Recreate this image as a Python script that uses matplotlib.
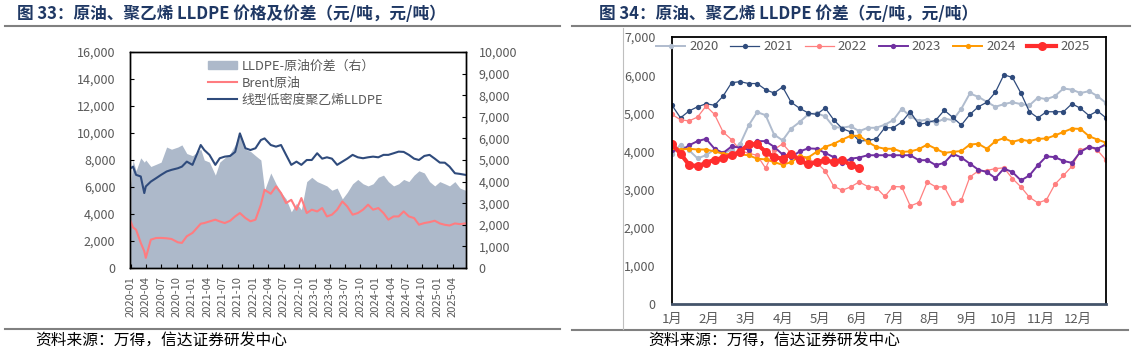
import matplotlib
matplotlib.use("Agg")
import matplotlib.pyplot as plt
from matplotlib.lines import Line2D
from matplotlib.patches import Patch
import numpy as np
import pandas as pd

plt.rcParams['font.family'] = ['Noto Sans CJK SC', 'DejaVu Sans']

# ---------------- Left chart data (元/吨) ----------------
left_dates = ["2020-01-02","2020-01-16","2020-02-03","2020-03-02","2020-03-23","2020-04-01","2020-05-01",
              "2020-06-01","2020-07-01","2020-08-03","2020-09-01","2020-10-09","2020-11-02","2020-12-01",
              "2021-01-04","2021-02-22","2021-03-15","2021-04-15","2021-05-20","2021-06-15","2021-07-15",
              "2021-08-16","2021-09-15","2021-10-13","2021-11-15","2021-12-15","2022-01-14","2022-02-15",
              "2022-03-09","2022-04-15","2022-05-16","2022-06-15","2022-07-15","2022-08-15","2022-09-15",
              "2022-10-14","2022-11-15","2022-12-15","2023-01-16","2023-02-15","2023-03-15","2023-04-14",
              "2023-05-15","2023-06-15","2023-07-14","2023-08-15","2023-09-15","2023-10-16","2023-11-15",
              "2023-12-15","2024-01-15","2024-02-15","2024-03-15","2024-04-15","2024-05-15","2024-06-14",
              "2024-07-15","2024-08-15","2024-09-13","2024-10-15","2024-11-15","2024-12-16","2025-01-15",
              "2025-02-14","2025-03-14","2025-04-15","2025-05-15","2025-06-16"]
lldpe = [7390,7510,6900,6780,5550,6040,6400,6650,6900,7150,7270,7390,7510,7880,7640,9110,8740,8380,7640,
         8130,8250,8300,8600,9970,8870,8740,8870,9480,9600,9110,8990,9110,8380,7640,7880,7640,8000,8000,
         8500,8100,8200,8100,7640,7880,8100,8380,8200,8130,8200,8250,8200,8380,8380,8500,8620,8600,8380,
         8100,8000,8300,8380,8100,7810,7800,7510,7020,6970,6900]
brent = [3450,3000,2840,1860,1240,750,2100,2220,2230,2200,2150,1900,1860,2350,2600,3280,3330,3450,3580,
         3450,3330,3500,3824,4070,3700,3460,3580,4690,5790,5500,6040,5550,4810,5050,4320,5180,4070,4320,
         4190,4440,3820,3950,4320,4930,4560,3950,4070,4320,4690,4320,4440,4070,3580,3820,3820,4190,3820,
         3700,3210,3330,3400,3500,3300,3200,3150,3300,3250,3300]
spread = [3800,5000,4500,5100,4900,5000,4700,4800,4900,5600,5500,5600,5700,5300,5200,5500,5000,4900,4300,
          4900,5100,5300,5700,6300,5500,5400,5200,5000,3600,4400,3900,3500,3200,2600,3000,2700,4000,4200,
          4000,3900,3800,3600,3700,3200,3500,3900,4100,3900,3800,3900,4200,4300,4000,3800,3900,4100,4000,
          4300,4500,4400,4000,3800,4000,3900,3800,4000,3700,3600]

# ---------------- Right chart data (weekly, 元/吨) ----------------
y2020 = [3920,4180,4030,3820,3900,4055,3940,4050,4190,4680,5030,4950,4440,4290,4600,4770,4970,5000,4920,4640,
         4620,4660,4530,4620,4620,4700,4820,5120,4920,4800,4830,4750,4860,4820,5120,5520,5430,5300,5170,5240,
         5290,5240,5210,5410,5370,5450,5650,5620,5530,5580,5450,5270]
y2021 = [5210,4880,5060,5170,5250,5210,5450,5800,5830,5780,5780,5620,5530,5690,5290,5130,5010,4970,5140,4830,
         4600,4510,4270,4290,4330,4620,4620,4770,5040,4710,4750,4820,5080,4890,4690,4970,5170,5290,5550,6010,
         5940,5530,5040,4880,5040,5040,5040,5250,5130,4940,5060,4880]
y2022 = [4970,4830,4800,4900,5190,4970,4510,4310,4030,3950,3900,3560,4050,4200,3950,3850,3800,3700,3490,3090,
         2980,3070,3200,3080,3050,2820,3080,3070,2570,2660,3200,3070,3070,2650,2720,3330,3490,3500,3550,3570,
         3290,3070,2800,2650,2730,3140,3370,3610,4030,4120,4030,3770]
y2023 = [4050,4010,4160,4270,4330,4070,3960,4130,4100,4050,4270,4270,4120,3920,3850,4000,4080,4070,3960,3850,
         3700,3810,3840,3900,3900,3900,3900,3900,3900,3770,3770,3640,3700,3940,3840,3680,3520,3460,3300,3550,
         3460,3240,3370,3640,3870,3850,3750,3700,3990,4120,4070,4190]
y2024 = [4120,4050,4070,4050,4050,4000,3940,3920,3920,3900,3810,3790,3720,3650,3720,3870,3840,3990,4120,4200,
         4310,4410,4410,4250,4120,4070,4070,3990,4000,4060,4180,4070,3960,3990,4010,4180,4200,4070,4270,4350,
         4250,4310,4270,4330,4340,4420,4510,4600,4590,4400,4310,4230]
y2025 = [4190,3940,3650,3610,3700,3780,3830,3900,3990,4190,4190,3990,3850,3810,3940,3770,3660,3720,3770,3720,
         3780,3640,3570]
years = ["2020", "2021", "2022", "2023", "2024", "2025"]
month_labels = ["1月","2月","3月","4月","5月","6月","7月","8月","9月","10月","11月","12月"]

W, H = 1133, 354
fig = plt.figure(figsize=(W/100, H/100), dpi=100)

def fx(px): return px / W
def fy(py): return 1 - py / H

TITLE_C = "#1F3864"
GREY_T = "#595959"
fmt = matplotlib.ticker.FuncFormatter(lambda v, p: f"{int(v):,}")

# titles & rules
fig.text(fx(17), fy(14), "图 33：原油、聚乙烯 LLDPE 价格及价差（元/吨，元/吨）", fontsize=12, fontweight='bold',
         color=TITLE_C, va='center', ha='left')
fig.text(fx(599), fy(14), "图 34：原油、聚乙烯 LLDPE 价差（元/吨，元/吨）", fontsize=12, fontweight='bold',
         color=TITLE_C, va='center', ha='left')
fig.add_artist(Line2D([fx(5), fx(560)], [fy(26), fy(26)], color="#808080", lw=1.5))
fig.add_artist(Line2D([fx(572), fx(1130)], [fy(26), fy(26)], color="#808080", lw=1.5))
fig.add_artist(Line2D([fx(5), fx(560)], [fy(329), fy(329)], color="#808080", lw=1.5))
fig.add_artist(Line2D([fx(572), fx(1128)], [fy(330), fy(330)], color="#808080", lw=1.5))
fig.add_artist(Line2D([fx(623), fx(623)], [fy(28), fy(329)], color="#BFBFBF", lw=0.8))
fig.text(fx(35), fy(340), "资料来源：万得，信达证券研发中心", fontsize=11.3, color="black", va='center', ha='left',
         style='italic')
fig.text(fx(648), fy(340), "资料来源：万得，信达证券研发中心", fontsize=11.3, color="black", va='center', ha='left',
         style='italic')

# ---------------- Left chart ----------------
ax = fig.add_axes([fx(130), fy(268), fx(466) - fx(130), fy(52) - fy(268)])
ax2 = ax.twinx()
d = pd.to_datetime(left_dates)
ax2.fill_between(d, 0, spread, color="#ADB9CA", lw=0, zorder=1)
ax2.set_ylim(0, 10000)
ax2.set_yticks(np.arange(0, 10001, 1000))
ax2.yaxis.set_major_formatter(fmt)
ax.set_zorder(ax2.get_zorder() + 1)
ax.patch.set_visible(False)
ax.plot(d, brent, color="#FF7C80", lw=1.5)
ax.plot(d, lldpe, color="#2F4B7C", lw=1.5)
ax.set_ylim(0, 16000)
ax.set_yticks(np.arange(0, 16001, 2000))
ax.yaxis.set_major_formatter(fmt)
ax.set_xlim(pd.Timestamp("2019-12-29"), pd.Timestamp("2025-06-20"))
ticks = pd.date_range("2020-01-01", "2025-04-01", freq="3MS")
ax.set_xticks(ticks)
ax.set_xticklabels([t.strftime("%Y-%m") for t in ticks], rotation=90, fontsize=8, color=GREY_T)
for a in (ax, ax2):
    a.tick_params(direction='in', length=3, width=0.8, colors="black", labelcolor=GREY_T, labelsize=9)
    for s in a.spines.values():
        s.set_color("black"); s.set_linewidth(1.0)
ax.tick_params(axis='y', pad=10.5)
ax2.tick_params(axis='y', pad=9)
ax.tick_params(axis='x', pad=6, labelsize=8)
handles = [Patch(color="#ADB9CA"), Line2D([], [], color="#FF7C80", lw=1.5), Line2D([], [], color="#2F4B7C", lw=1.5)]
labels = ["LLDPE-原油价差（右）", "Brent原油", "线型低密度聚乙烯LLDPE"]
fig.legend(handles, labels, loc='upper left', bbox_to_anchor=(fx(200), fy(52)), frameon=False, fontsize=9.3,
           labelcolor=GREY_T, handlelength=2.3, handleheight=0.6, labelspacing=0.3, borderpad=0.1,
           handletextpad=0.3)

# ---------------- Right chart ----------------
bx = fig.add_axes([fx(672), fy(304), fx(1106) - fx(672), fy(37) - fy(304)])
styles = {
    "2020": dict(color="#B0BCCE", lw=1.4, ms=3.8),
    "2021": dict(color="#2F4B7C", lw=0.9, ms=3.8),
    "2022": dict(color="#FF8080", lw=0.9, ms=3.8),
    "2023": dict(color="#7030A0", lw=1.4, ms=3.8),
    "2024": dict(color="#FF9900", lw=1.4, ms=3.8),
    "2025": dict(color="#FF2D2D", lw=3.0, ms=6.5),
}
series = [y2020, y2021, y2022, y2023, y2024, y2025]
hs = []
for yr, ys in zip(years, series):
    st = styles[yr]
    h, = bx.plot(np.arange(len(ys)), ys, color=st["color"], lw=st["lw"], marker='o', ms=st["ms"],
                 markeredgewidth=0)
    hs.append(h)
bx.set_xlim(0, 51)
bx.set_ylim(0, 7000)
bx.set_yticks(np.arange(0, 7001, 1000))
bx.yaxis.set_major_formatter(fmt)
bx.set_xticks(np.arange(12) * 52 / 12)
bx.set_xticklabels(month_labels)
bx.tick_params(axis='both', length=0, labelcolor=GREY_T, labelsize=9)
bx.tick_params(axis='y', pad=12)
bx.tick_params(axis='x', pad=6.5, labelsize=9.5)
for s in ["left", "right", "top"]:
    bx.spines[s].set_color("black"); bx.spines[s].set_linewidth(1.3)
bx.spines["bottom"].set_color("#44546A"); bx.spines["bottom"].set_linewidth(2)
fig.legend(hs, years, loc='center', bbox_to_anchor=(fx(873), fy(47)), ncol=6, frameon=False, fontsize=9.5,
           labelcolor=GREY_T, handlelength=2.2, columnspacing=0.9, handletextpad=0.3)

fig.savefig("out.png", dpi=100)
